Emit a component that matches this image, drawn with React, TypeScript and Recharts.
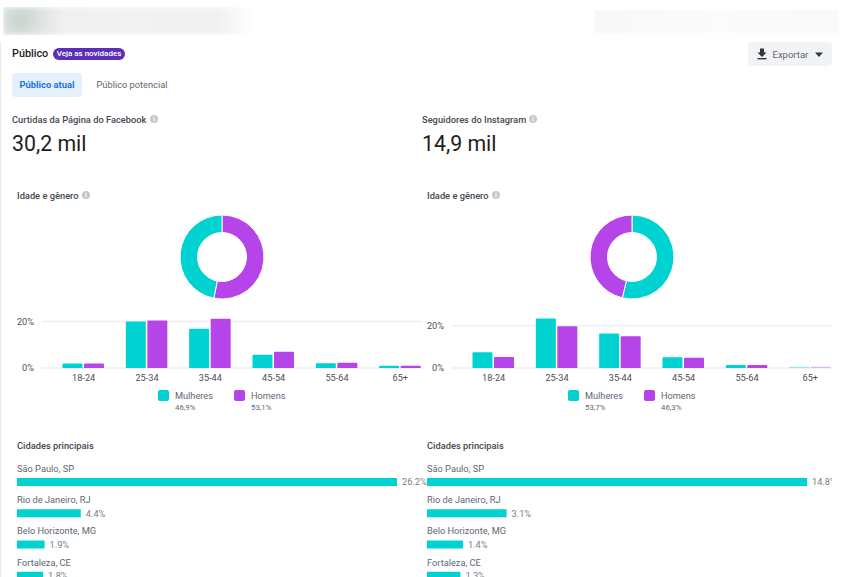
import React from 'react';
import { BarChart, Bar, XAxis, YAxis, CartesianGrid, PieChart, Pie, Cell, LabelList } from 'recharts';

const TEAL = '#00d1d1';
const PURPLE = '#b545e8';
const FONT = 'Roboto, sans-serif';

const ageGroups = ['18-24', '25-34', '35-44', '45-54', '55-64', '65+'];
const fbWomen = [1.9, 20.0, 16.9, 5.7, 2.0, 1.0];
const fbMen = [1.9, 20.4, 21.2, 7.0, 2.3, 1.0];
const igWomen = [7.5, 23.5, 16.3, 5.1, 1.4, 0.6];
const igMen = [5.2, 19.8, 15.1, 4.8, 1.4, 0.6];
const yTicks = [0, 20];

const cityNames = ['São Paulo, SP', 'Rio de Janeiro, RJ', 'Belo Horizonte, MG', 'Fortaleza, CE'];
const fbCities = [26.2, 4.4, 1.9, 1.8];
const igCities = [14.8, 3.1, 1.4, 1.3];

const fbGender = [
  { name: 'Homens', value: 53.1, color: PURPLE },
  { name: 'Mulheres', value: 46.9, color: TEAL },
];
const igGender = [
  { name: 'Mulheres', value: 53.7, color: TEAL },
  { name: 'Homens', value: 46.3, color: PURPLE },
];

function Txt({ x, y, size = 10, color = '#4b4f56', weight = 400, children }: any) {
  return (
    <div
      style={{
        position: 'absolute',
        left: x,
        top: y,
        transform: 'translateY(-50%)',
        fontFamily: FONT,
        fontSize: size,
        color,
        fontWeight: weight,
        whiteSpace: 'nowrap',
        lineHeight: 1,
      }}
    >
      {children}
    </div>
  );
}

function Info({ x, y }: { x: number; y: number }) {
  return (
    <svg style={{ position: 'absolute', left: x, top: y }} width={8} height={8} viewBox="0 0 8 8">
      <circle cx={4} cy={4} r={4} fill="#c4c7cc" />
      <rect x={3.4} y={3.4} width={1.2} height={3} fill="#fff" />
      <rect x={3.4} y={1.6} width={1.2} height={1.2} fill="#fff" />
    </svg>
  );
}

function CityLabel({ x, y, index, names }: any) {
  return (
    <text x={x} y={y - 8.5} fontFamily={FONT} fontSize={9.25} fill="#606770" dominantBaseline="middle">
      {names[index]}
    </text>
  );
}

function Panel({ ox, likes, label, labelIconX, women, men, gender, yMax, cities, cityWidth, fadeLast }: any) {
  const ageData = ageGroups.map((age, i) => ({ age, women: women[i], men: men[i] }));
  const cityData = cityNames.map((name, i) => ({ name, value: cities[i] }));
  const womenShare = gender.find((g: any) => g.name === 'Mulheres').value;
  const menShare = gender.find((g: any) => g.name === 'Homens').value;
  const pct = (v: number) => v.toFixed(1).replace('.', ',') + '%';
  const fill = (i: number) => (fadeLast && i === ageGroups.length - 1 ? 0.35 : 1);

  return (
    <>
      <Txt x={ox + 12} y={119.5} size={9.3} color="#444950" weight={500}>{label}</Txt>
      <Info x={labelIconX} y={115} />
      <Txt x={ox + 12} y={144} size={21.3} color="#1c1e21">{likes}</Txt>
      <Txt x={ox + 17} y={196} size={9.3} color="#444950" weight={500}>Idade e gênero</Txt>
      <Info x={ox + 82} y={191} />

      <div style={{ position: 'absolute', left: ox + 172, top: 207 }}>
        <PieChart width={100} height={100} margin={{ top: 0, right: 0, bottom: 0, left: 0 }}>
          <Pie
            data={gender}
            dataKey="value"
            cx={50}
            cy={50}
            innerRadius={24.5}
            outerRadius={42}
            startAngle={90}
            endAngle={-270}
            stroke="#fff"
            strokeWidth={1}
            isAnimationActive={false}
          >
            {gender.map((g: any) => (
              <Cell key={g.name} fill={g.color} />
            ))}
          </Pie>
        </PieChart>
      </div>

      <div style={{ position: 'absolute', left: ox + 2, top: 312 }}>
        <BarChart
          width={420}
          height={74}
          data={ageData}
          margin={{ top: 6, right: 0, bottom: 0, left: 0 }}
          barGap={1.5}
          barCategoryGap={10.5}
        >
          <CartesianGrid
            horizontal
            vertical={false}
            stroke="#eeeff1"
            strokeWidth={1.5}
            syncWithTicks
          />
          <XAxis
            dataKey="age"
            padding={{ left: 10, right: -10 }}
            axisLine={false}
            tickLine={false}
            height={18}
            tickMargin={0}
            tick={{ fontFamily: FONT, fontSize: 9.2, fill: '#4b4f56' }}
            interval={0}
          />
          <YAxis
            domain={[0, yMax]}
            ticks={yTicks}
            width={40}
            axisLine={false}
            tickLine={false}
            tickMargin={2}
            tickFormatter={(v) => `${v}%`}
            tick={{ fontFamily: FONT, fontSize: 9.2, fill: '#4b4f56' }}
          />
          <Bar dataKey="women" fill={TEAL} radius={[1, 1, 0, 0]} isAnimationActive={false}>
            {ageData.map((d, i) => (
              <Cell key={d.age} fillOpacity={fill(i)} />
            ))}
          </Bar>
          <Bar dataKey="men" fill={PURPLE} radius={[1, 1, 0, 0]} isAnimationActive={false}>
            {ageData.map((d, i) => (
              <Cell key={d.age} fillOpacity={fill(i)} />
            ))}
          </Bar>
        </BarChart>
      </div>

      <div style={{ position: 'absolute', left: ox + 158, top: 390, width: 11, height: 11, borderRadius: 2, background: TEAL }} />
      <Txt x={ox + 175} y={396} size={9.2} color="#606770">Mulheres</Txt>
      <Txt x={ox + 175} y={407.5} size={7.8} color="#606770">{pct(womenShare)}</Txt>
      <div style={{ position: 'absolute', left: ox + 234, top: 390, width: 11, height: 11, borderRadius: 2, background: PURPLE }} />
      <Txt x={ox + 251} y={396} size={9.2} color="#606770">Homens</Txt>
      <Txt x={ox + 251} y={407.5} size={7.8} color="#606770">{pct(menShare)}</Txt>

      <Txt x={ox + 17} y={446} size={9.3} color="#444950" weight={500}>Cidades principais</Txt>

      <div style={{ position: 'absolute', left: ox + 17, top: 456 }}>
        <BarChart
          width={cityWidth}
          height={135}
          data={cityData}
          layout="vertical"
          margin={{ top: 10, right: cityWidth - 380, bottom: 0, left: 0 }}
        >
          <XAxis type="number" hide domain={[0, cities[0]]} />
          <YAxis type="category" dataKey="name" hide />
          <Bar dataKey="value" fill={TEAL} barSize={8} isAnimationActive={false}>
            <LabelList content={<CityLabel names={cityNames} />} />
            <LabelList
              dataKey="value"
              position="right"
              offset={5}
              formatter={(v: number) => `${v}%`}
              style={{ fontFamily: FONT, fontSize: 9.2, fill: '#777d86' }}
            />
          </Bar>
        </BarChart>
      </div>
    </>
  );
}

export default function App() {
  return (
    <div
      style={{
        position: 'absolute',
        left: 0,
        top: 0,
        width: 841,
        height: 577,
        overflow: 'hidden',
        background: '#fff',
        fontFamily: FONT,
      }}
    >
      {/* blurred header areas */}
      <div style={{ position: 'absolute', left: 3, top: 7, width: 252, height: 28, overflow: 'hidden' }}>
        <div
          style={{
            position: 'absolute',
            inset: 0,
            background:
              'radial-gradient(circle at 7% 45%, #c7d2cc 0, #dfe4e1 9%, transparent 18%), linear-gradient(90deg, #eeeeee 0%, #f2f2f2 50%, #f1f1f1 85%, #ffffff 100%)',
            filter: 'blur(2px)',
          }}
        />
      </div>
      <div
        style={{
          position: 'absolute',
          left: 595,
          top: 10,
          width: 243,
          height: 23,
          background: 'linear-gradient(90deg, #f8f8f8, #fbfbfb 50%, #f9f9f9)',
          filter: 'blur(1px)',
        }}
      />
      <div style={{ position: 'absolute', left: 0, top: 42, width: 1, height: 535, background: '#e9e9e9' }} />

      <Txt x={12} y={54} size={10.8} color="#1c1e21" weight={500}>Público</Txt>
      <div
        style={{
          position: 'absolute',
          left: 53,
          top: 48,
          width: 72,
          height: 12,
          borderRadius: 6,
          background: '#5b2fb8',
          color: '#fff',
          fontFamily: FONT,
          fontSize: 8,
          fontWeight: 500,
          lineHeight: '12px',
          textAlign: 'center',
          whiteSpace: 'nowrap',
        }}
      >
        Veja as novidades
      </div>

      <div style={{ position: 'absolute', left: 12, top: 73, width: 70, height: 24, borderRadius: 4, background: '#e4f0fd' }} />
      <Txt x={19.5} y={85} size={9.4} color="#1b74e4" weight={700}>Público atual</Txt>
      <Txt x={96.5} y={85} size={9.25} color="#606770">Público potencial</Txt>

      <div style={{ position: 'absolute', left: 748, top: 42, width: 84, height: 24, borderRadius: 4, background: '#f2f3f4' }} />
      <svg style={{ position: 'absolute', left: 756, top: 48 }} width={12} height={12} viewBox="0 0 12 12">
        <path d="M4 0.5 H8 V4.5 H10.5 L6 9 L1.5 4.5 H4 Z" fill="#33363b" />
        <rect x={1.5} y={10} width={9} height={1.4} fill="#33363b" />
      </svg>
      <Txt x={772.5} y={55} size={9.5} color="#606770">Exportar</Txt>
      <svg style={{ position: 'absolute', left: 814, top: 52 }} width={10} height={6} viewBox="0 0 10 6">
        <path d="M1 0.5 H9 L5 5 Z" fill="#33363b" />
      </svg>

      <Panel
        ox={0}
        likes="30,2 mil"
        label="Curtidas da Página do Facebook"
        labelIconX={150}
        women={fbWomen}
        men={fbMen}
        gender={fbGender}
        yMax={21.5}
        cities={fbCities}
        cityWidth={412}
        fadeLast={false}
      />
      <Panel
        ox={410}
        likes="14,9 mil"
        label="Seguidores do Instagram"
        labelIconX={529}
        women={igWomen}
        men={igMen}
        gender={igGender}
        yMax={23.7}
        cities={igCities}
        cityWidth={405}
        fadeLast
      />
    </div>
  );
}
